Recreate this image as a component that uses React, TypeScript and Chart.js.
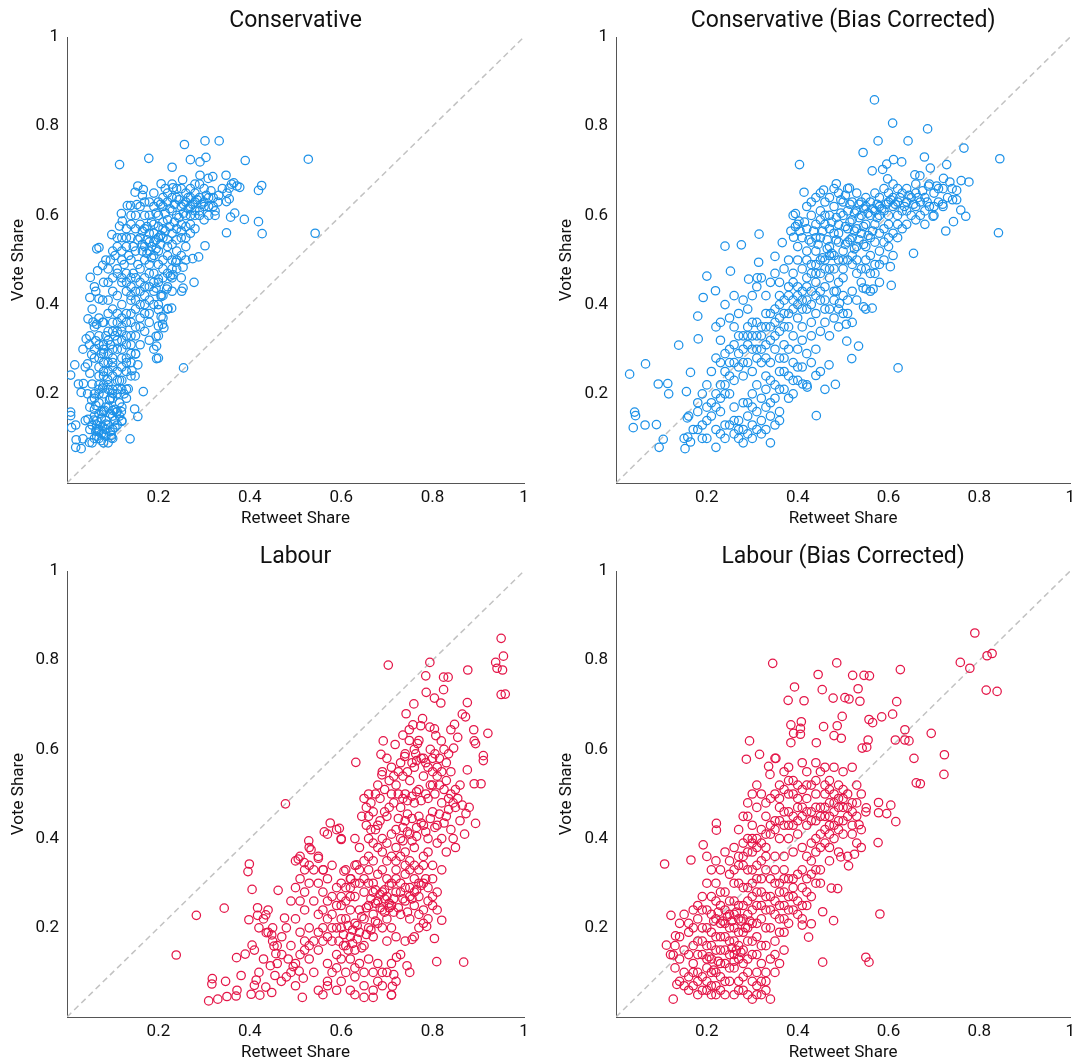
import React, { useEffect, useRef } from 'react';
import { Chart, registerables } from 'chart.js';

Chart.register(...registerables);

// ---------- DATA ----------
const panelTitles = ['Conservative', 'Conservative (Bias Corrected)', 'Labour', 'Labour (Bias Corrected)'];
const xAxisTitle = 'Retweet Share';
const yAxisTitle = 'Vote Share';
const axisTicks = [0, 0.2, 0.4, 0.6, 0.8, 1];
const diagonal: [number, number][] = [[0, 0], [1, 1]];

const conservativeRaw: [number, number][] = [
  [0.528,0.726],[0.543,0.56],[0.255,0.258],[0.426,0.667],[0.419,0.656],[0.419,0.586],[0.427,0.559],[0.39,0.723],[0.388,0.591],[0.333,0.767],[0.302,0.767],[0.257,0.759],[0.304,0.73],[0.27,0.725],[0.291,0.72],[0.179,0.728],[0.115,0.714],[0.23,0.708],[0.348,0.69],[0.319,0.687],[0.309,0.683],[0.291,0.69],[0.365,0.673],[0.372,0.666],[0.378,0.663],[0.355,0.661],[0.349,0.631],[0.355,0.637],[0.367,0.605],[0.358,0.596],[0.349,0.561],[0.324,0.61],[0.324,0.6],[0.332,0.645],[0.302,0.532],[0.288,0.507],[0.278,0.45],[0.275,0.503],[0.254,0.437],[0.251,0.43],[0.253,0.68],[0.232,0.662],[0.206,0.671],[0.155,0.666],[0.149,0.652],[0.167,0.658],[0.165,0.645],[0.132,0.622],[0.139,0.622],[0.153,0.624],[0.119,0.604],[0.121,0.587],[0.115,0.576],[0.098,0.557],[0.07,0.528],[0.065,0.525],[0.078,0.488],[0.09,0.48],[0.095,0.5],[0.051,0.461],[0.067,0.476],[0.05,0.416],[0.063,0.43],[0.07,0.413],[0.078,0.41],[0.046,0.368],[0.057,0.361],[0.065,0.356],[0.078,0.36],[0.042,0.323],[0.049,0.31],[0.063,0.319],[0.054,0.288],[0.017,0.265],[0.008,0.242],[0.045,0.267],[0.05,0.246],[0.025,0.222],[0.036,0.223],[0.031,0.203],[0.055,0.222],[0.008,0.159],[0.008,0.151],[0.01,0.124],[0.019,0.13],[0.02,0.097],[0.019,0.08],[0.031,0.077],[0.035,0.099],[0.049,0.091],[0.046,0.143],[0.054,0.186],[0.063,0.116],[0.07,0.116],[0.078,0.126],[0.085,0.132],[0.059,0.141],[0.07,0.155],[0.082,0.163],[0.093,0.186],[0.1,0.201],[0.078,0.213],[0.089,0.232],[0.063,0.174],[0.1,0.163],[0.108,0.159],[0.119,0.16],[0.097,0.107],[0.097,0.101],[0.138,0.099],[0.148,0.166],[0.155,0.149],[0.12,0.138],[0.167,0.205],[0.134,0.211],[0.149,0.24],[0.142,0.252],[0.155,0.265],[0.15,0.289],
  [0.196,0.307],[0.195,0.329],[0.196,0.279],[0.212,0.348],[0.209,0.356],[0.2,0.352],[0.206,0.373],[0.221,0.391],[0.229,0.392],[0.2,0.389],[0.206,0.422],[0.206,0.418],[0.218,0.435],[0.2,0.457],[0.195,0.437],[0.226,0.464],[0.232,0.467],[0.238,0.495],[0.254,0.484],
  [0.13,0.47],[0.14,0.5],[0.15,0.52],[0.16,0.55],[0.17,0.53],[0.18,0.56],[0.18,0.52],[0.19,0.54],[0.19,0.58],[0.2,0.55],[0.2,0.6],[0.21,0.57],[0.21,0.62],[0.22,0.59],[0.22,0.63],[0.23,0.61],[0.23,0.56],[0.24,0.6],[0.24,0.64],[0.25,0.58],[0.25,0.62],[0.26,0.6],[0.26,0.65],[0.27,0.62],[0.27,0.58],[0.28,0.63],[0.28,0.6],[0.29,0.64],[0.29,0.61],[0.3,0.63],[0.3,0.66],[0.31,0.6],[0.31,0.64],[0.32,0.62],[0.17,0.5],[0.16,0.48],[0.18,0.49],[0.19,0.51],[0.2,0.52],[0.21,0.5],[0.22,0.53],[0.23,0.5],[0.24,0.52],[0.25,0.55],[0.26,0.53],[0.27,0.56],[0.28,0.57],[0.15,0.46],[0.14,0.44],[0.16,0.43],[0.17,0.46],[0.18,0.44],[0.19,0.47],[0.2,0.45],[0.21,0.48],[0.22,0.47],[0.23,0.46],[0.2,0.63],[0.19,0.62],[0.21,0.64],[0.22,0.65],[0.23,0.64],[0.18,0.6],[0.17,0.6],[0.16,0.58],[0.15,0.57],[0.14,0.55],[0.13,0.53],[0.12,0.5],[0.12,0.52],[0.11,0.48],[0.13,0.57],[0.14,0.6],[0.17,0.63],[0.25,0.66],[0.27,0.66],[0.28,0.65],[0.29,0.67],[0.3,0.62],[0.26,0.63],[0.24,0.57],[0.21,0.55],[0.19,0.56],[0.18,0.54],[0.17,0.57],[0.22,0.51],[0.2,0.49],[0.185,0.53],[0.195,0.545],[0.205,0.535],[0.175,0.545],[0.165,0.52],[0.155,0.49],[0.145,0.47],[0.26,0.5],[0.24,0.48],[0.25,0.46],[0.23,0.43],[0.21,0.42],[0.2,0.4],[0.22,0.39],[0.21,0.37],[0.2,0.33],[0.19,0.3],[0.2,0.28],
  [0.06,0.3],[0.07,0.28],[0.07,0.33],[0.08,0.31],[0.08,0.27],[0.09,0.29],[0.09,0.34],[0.1,0.3],[0.1,0.36],[0.1,0.27],[0.11,0.32],[0.11,0.38],[0.11,0.25],[0.12,0.35],[0.12,0.3],[0.12,0.4],[0.13,0.33],[0.13,0.38],[0.13,0.28],[0.14,0.36],[0.14,0.41],[0.14,0.31],[0.15,0.39],[0.15,0.35],[0.15,0.43],[0.16,0.4],[0.16,0.37],[0.17,0.42],[0.17,0.38],[0.18,0.41],[0.18,0.36],[0.09,0.38],[0.08,0.36],[0.07,0.37],[0.06,0.35],[0.09,0.41],[0.1,0.43],[0.11,0.42],[0.12,0.45],[0.1,0.46],[0.11,0.47],[0.09,0.45],[0.1,0.39],[0.12,0.37],[0.13,0.43],[0.14,0.46],[0.1,0.24],[0.09,0.22],[0.11,0.21],[0.12,0.23],[0.13,0.25],[0.14,0.27],[0.15,0.29],[0.13,0.21],[0.14,0.24],[0.12,0.26],[0.08,0.25],[0.07,0.24],[0.08,0.22],[0.12,0.32],[0.13,0.31],[0.14,0.33],[0.11,0.34],[0.095,0.31],[0.105,0.33],[0.085,0.33],[0.075,0.29],
  [0.05,0.12],[0.06,0.1],[0.06,0.15],[0.07,0.12],[0.07,0.18],[0.08,0.11],[0.08,0.16],[0.08,0.2],[0.09,0.13],[0.09,0.17],[0.1,0.12],[0.1,0.15],[0.1,0.19],[0.11,0.16],[0.11,0.13],[0.12,0.17],[0.12,0.14],[0.06,0.2],[0.07,0.22],[0.05,0.17],[0.04,0.14],[0.055,0.09],[0.065,0.105],[0.075,0.095],[0.085,0.105],[0.09,0.09],[0.1,0.1],[0.065,0.13],[0.075,0.145],[0.085,0.14],[0.095,0.155],[0.105,0.165],[0.115,0.18],[0.06,0.165],[0.07,0.2],[0.09,0.21],[0.1,0.21],[0.11,0.2],[0.115,0.23],
  [0.165,0.535],[0.175,0.515],[0.185,0.505],[0.195,0.525],[0.205,0.555],[0.215,0.565],[0.225,0.575],[0.235,0.585],[0.245,0.595],[0.255,0.605],[0.265,0.615],[0.275,0.625],[0.285,0.635],[0.295,0.625],[0.305,0.645],[0.315,0.655],[0.215,0.605],[0.225,0.615],[0.235,0.625],[0.245,0.635],[0.255,0.625],[0.265,0.64],[0.205,0.625],[0.195,0.605],[0.185,0.585],[0.175,0.575],[0.165,0.565],[0.155,0.545],[0.145,0.53],[0.135,0.51],[0.125,0.49],[0.2,0.575],[0.21,0.585],[0.22,0.545],[0.23,0.535],[0.24,0.545],[0.25,0.565],[0.26,0.575],[0.27,0.6],[0.28,0.61],[0.29,0.6],[0.3,0.59],[0.31,0.62],[0.32,0.64],[0.33,0.63],[0.34,0.66],[0.35,0.65],[0.36,0.67],[0.27,0.64],[0.28,0.67],[0.24,0.66],[0.23,0.67],[0.215,0.66],[0.19,0.65],[0.18,0.63],[0.16,0.62],[0.15,0.6],[0.14,0.58],[0.13,0.55],[0.12,0.55],[0.11,0.53],[0.105,0.51],[0.12,0.46],[0.13,0.45],[0.14,0.42],[0.15,0.41],[0.16,0.45],[0.17,0.44],[0.18,0.47],[0.19,0.45],[0.21,0.46],[0.22,0.44],[0.24,0.5],[0.25,0.51],[0.26,0.55],[0.23,0.48],[0.17,0.4],[0.16,0.35],[0.15,0.33],[0.14,0.38],[0.13,0.36],[0.12,0.34],[0.11,0.36],[0.1,0.34],[0.09,0.32],[0.08,0.3],[0.07,0.31],[0.06,0.28],[0.07,0.26],[0.08,0.29],[0.09,0.27],[0.1,0.28],[0.11,0.3],[0.12,0.28],[0.13,0.27],[0.14,0.29],[0.16,0.31],[0.17,0.34],[0.18,0.32],[0.18,0.38],[0.19,0.4],[0.19,0.43],[0.085,0.17],[0.095,0.19],[0.105,0.14],[0.115,0.15],[0.075,0.16],[0.065,0.14],[0.055,0.13],[0.065,0.12],[0.075,0.11],[0.085,0.12],[0.095,0.115],[0.105,0.125],[0.07,0.1],[0.08,0.09],[0.06,0.19],[0.07,0.21],[0.08,0.24],[0.09,0.25],[0.1,0.26],[0.11,0.23],[0.12,0.21],[0.13,0.19],[0.125,0.2],[0.045,0.2],[0.04,0.26],[0.035,0.3],[0.05,0.33],[0.055,0.39],[0.06,0.44],[0.08,0.45],[0.085,0.5],[0.1,0.52],[0.11,0.55],
];

const conservativeCorrected: [number, number][] = [
  [0.569,0.859],[0.609,0.807],[0.686,0.794],[0.577,0.767],[0.643,0.767],[0.544,0.741],[0.766,0.751],[0.404,0.714],[0.845,0.727],[0.842,0.561],[0.611,0.725],[0.629,0.72],[0.679,0.731],[0.728,0.714],[0.564,0.7],[0.587,0.703],[0.596,0.715],[0.598,0.682],[0.692,0.706],[0.658,0.691],[0.669,0.689],[0.721,0.683],[0.735,0.675],[0.76,0.678],[0.777,0.675],[0.706,0.666],[0.688,0.666],[0.75,0.656],[0.741,0.635],[0.75,0.635],[0.719,0.625],[0.759,0.612],[0.77,0.598],[0.743,0.586],[0.726,0.565],[0.698,0.598],[0.655,0.515],[0.621,0.258],[0.606,0.443],[0.604,0.485],[0.03,0.244],[0.065,0.267],[0.041,0.159],[0.043,0.151],[0.038,0.124],[0.064,0.13],[0.089,0.131],[0.104,0.098],[0.095,0.08],[0.093,0.222],[0.114,0.223],[0.116,0.2],[0.138,0.309],[0.152,0.077],[0.158,0.103],[0.164,0.092],[0.157,0.146],[0.155,0.205],[0.164,0.248],[0.181,0.323],[0.18,0.374],[0.192,0.416],[0.2,0.464],[0.219,0.431],[0.24,0.531],[0.276,0.534],[0.315,0.558],[0.252,0.475],[0.292,0.457],[0.311,0.46],[0.314,0.495],[0.35,0.508],[0.366,0.539],[0.391,0.551],[0.395,0.604],[0.403,0.587],[0.414,0.652],[0.457,0.657],[0.485,0.671],[0.514,0.661],
  [0.545,0.395],[0.564,0.392],[0.544,0.437],[0.551,0.435],[0.566,0.435],[0.534,0.307],[0.519,0.279],[0.508,0.318],[0.507,0.356],[0.492,0.403],[0.485,0.43],[0.483,0.221],[0.469,0.265],[0.441,0.151],[0.44,0.241],[0.421,0.215],[0.411,0.222],
  [0.45,0.55],[0.46,0.58],[0.47,0.6],[0.47,0.53],[0.48,0.56],[0.48,0.62],[0.49,0.58],[0.49,0.54],[0.5,0.6],[0.5,0.63],[0.5,0.52],[0.51,0.57],[0.51,0.61],[0.52,0.55],[0.52,0.59],[0.52,0.63],[0.53,0.57],[0.53,0.61],[0.53,0.53],[0.54,0.6],[0.54,0.63],[0.54,0.56],[0.55,0.58],[0.55,0.62],[0.55,0.64],[0.56,0.6],[0.56,0.55],[0.56,0.63],[0.57,0.61],[0.57,0.58],[0.58,0.62],[0.58,0.6],[0.58,0.64],[0.59,0.61],[0.59,0.57],[0.6,0.63],[0.6,0.6],[0.61,0.62],[0.61,0.64],[0.62,0.6],[0.62,0.63],[0.63,0.65],[0.63,0.61],[0.64,0.63],[0.64,0.66],[0.65,0.64],[0.65,0.6],[0.66,0.62],[0.66,0.65],[0.67,0.63],[0.67,0.6],[0.68,0.64],[0.68,0.61],[0.69,0.62],[0.7,0.65],[0.7,0.6],[0.71,0.63],[0.72,0.66],[0.46,0.5],[0.47,0.48],[0.48,0.51],[0.49,0.5],[0.5,0.48],[0.51,0.5],[0.52,0.49],[0.53,0.5],[0.54,0.48],[0.55,0.5],[0.56,0.47],[0.57,0.49],[0.58,0.52],[0.59,0.5],[0.6,0.53],[0.61,0.51],[0.62,0.55],[0.63,0.57],[0.64,0.58],[0.44,0.52],[0.43,0.54],[0.42,0.57],[0.43,0.6],[0.44,0.58],[0.45,0.61],[0.46,0.63],[0.47,0.64],[0.48,0.66],[0.49,0.65],[0.51,0.66],[0.53,0.65],[0.57,0.65],[0.59,0.66],[0.6,0.58],[0.58,0.56],[0.57,0.54],[0.55,0.53],[0.51,0.54],[0.49,0.56],[0.47,0.57],[0.45,0.59],[0.44,0.55],[0.42,0.52],[0.41,0.55],[0.4,0.58],[0.39,0.6],[0.4,0.53],
  [0.3,0.33],[0.31,0.3],[0.32,0.35],[0.33,0.28],[0.33,0.38],[0.34,0.32],[0.35,0.36],[0.35,0.3],[0.36,0.4],[0.36,0.34],[0.37,0.38],[0.37,0.31],[0.38,0.42],[0.38,0.35],[0.39,0.39],[0.39,0.33],[0.4,0.44],[0.4,0.37],[0.41,0.41],[0.41,0.35],[0.42,0.46],[0.42,0.39],[0.43,0.43],[0.43,0.36],[0.44,0.45],[0.44,0.38],[0.45,0.41],[0.45,0.47],[0.46,0.44],[0.46,0.39],[0.47,0.46],[0.48,0.43],[0.49,0.45],[0.5,0.42],[0.5,0.46],[0.51,0.38],[0.52,0.43],[0.52,0.36],[0.53,0.41],[0.54,0.45],[0.55,0.39],[0.56,0.43],[0.57,0.47],[0.58,0.45],[0.28,0.3],[0.29,0.27],[0.3,0.25],[0.31,0.36],[0.32,0.27],[0.33,0.24],[0.34,0.27],[0.35,0.22],[0.36,0.25],[0.37,0.28],[0.38,0.3],[0.39,0.27],[0.4,0.3],[0.41,0.32],[0.42,0.29],[0.43,0.33],[0.44,0.3],[0.45,0.34],[0.46,0.36],[0.47,0.33],[0.48,0.37],[0.49,0.35],[0.26,0.35],[0.27,0.38],[0.28,0.41],[0.29,0.39],[0.3,0.42],[0.31,0.44],[0.32,0.46],[0.33,0.42],[0.34,0.45],[0.35,0.47],[0.36,0.45],[0.37,0.48],[0.38,0.5],[0.39,0.47],[0.4,0.5],[0.41,0.48],[0.42,0.5],[0.43,0.49],[0.44,0.47],[0.22,0.28],[0.23,0.32],[0.24,0.25],[0.25,0.3],[0.26,0.27],[0.27,0.33],[0.28,0.24],[0.29,0.35],[0.25,0.37],[0.23,0.36],[0.22,0.35],[0.24,0.4],[0.26,0.42],
  [0.17,0.12],[0.18,0.16],[0.19,0.1],[0.2,0.14],[0.21,0.18],[0.22,0.12],[0.23,0.16],[0.24,0.1],[0.25,0.13],[0.25,0.2],[0.26,0.17],[0.26,0.11],[0.27,0.14],[0.27,0.1],[0.28,0.12],[0.28,0.18],[0.29,0.11],[0.29,0.15],[0.3,0.13],[0.3,0.2],[0.31,0.16],[0.31,0.22],[0.32,0.19],[0.32,0.14],[0.33,0.17],[0.34,0.15],[0.35,0.19],[0.35,0.13],[0.36,0.16],[0.36,0.14],[0.37,0.21],[0.38,0.24],[0.39,0.2],[0.4,0.23],[0.41,0.26],[0.42,0.22],[0.43,0.27],[0.45,0.25],[0.46,0.21],[0.2,0.22],[0.21,0.25],[0.22,0.2],[0.23,0.22],[0.24,0.2],[0.19,0.2],[0.18,0.18],[0.16,0.15],[0.15,0.1],[0.2,0.1],[0.22,0.08],[0.27,0.12],[0.28,0.09],[0.3,0.1],[0.32,0.11],[0.34,0.09],[0.33,0.12],
  [0.455,0.565],[0.465,0.545],[0.475,0.585],[0.485,0.595],[0.495,0.605],[0.505,0.575],[0.515,0.585],[0.525,0.565],[0.535,0.595],[0.545,0.575],[0.555,0.605],[0.565,0.615],[0.575,0.625],[0.585,0.615],[0.595,0.625],[0.605,0.635],[0.615,0.625],[0.625,0.64],[0.635,0.62],[0.645,0.645],[0.655,0.625],[0.665,0.64],[0.675,0.655],[0.685,0.63],[0.505,0.535],[0.515,0.545],[0.525,0.525],[0.535,0.545],[0.545,0.535],[0.555,0.555],[0.565,0.565],[0.575,0.595],[0.545,0.615],[0.535,0.625],[0.525,0.605],[0.515,0.625],[0.505,0.645],[0.495,0.635],[0.485,0.545],[0.475,0.515],[0.465,0.525],[0.455,0.505],[0.445,0.535],[0.435,0.565],[0.425,0.545],[0.415,0.585],[0.405,0.565],[0.395,0.575],[0.385,0.565],[0.42,0.62],[0.43,0.63],[0.44,0.64],[0.45,0.65],[0.46,0.6],[0.6,0.65],[0.61,0.67],[0.62,0.66],[0.66,0.67],[0.69,0.67],[0.71,0.66],[0.73,0.64],[0.74,0.66],[0.72,0.62],[0.7,0.62],[0.68,0.58],[0.66,0.59],[0.64,0.61],[0.62,0.58],[0.61,0.56],[0.6,0.55],[0.59,0.54],[0.58,0.49],[0.56,0.51],[0.55,0.48],[0.53,0.47],[0.52,0.51],[0.5,0.5],[0.48,0.48],[0.47,0.51],[0.46,0.48],[0.45,0.5],[0.44,0.49],[0.43,0.47],[0.42,0.44],[0.41,0.43],[0.4,0.42],[0.39,0.41],[0.38,0.38],[0.37,0.35],[0.36,0.37],[0.35,0.33],[0.34,0.35],[0.33,0.31],[0.32,0.3],[0.31,0.28],[0.3,0.3],[0.29,0.31],[0.28,0.27],[0.27,0.26],[0.26,0.23],[0.25,0.24],[0.24,0.22],[0.23,0.19],[0.22,0.17],[0.21,0.15],[0.2,0.17],[0.19,0.13],[0.18,0.12],[0.37,0.41],[0.38,0.44],[0.39,0.45],[0.4,0.4],[0.41,0.39],[0.42,0.41],[0.43,0.4],[0.44,0.42],[0.45,0.43],[0.46,0.41],[0.47,0.39],[0.48,0.41],[0.49,0.39],[0.5,0.38],[0.51,0.41],[0.36,0.42],[0.35,0.39],[0.34,0.38],[0.33,0.35],[0.32,0.33],[0.31,0.33],[0.3,0.36],[0.29,0.33],[0.28,0.33],[0.27,0.29],[0.26,0.31],[0.25,0.27],[0.24,0.29],[0.23,0.27],[0.3,0.17],[0.31,0.12],[0.26,0.14],[0.24,0.13],[0.23,0.11],[0.29,0.18],[0.34,0.18],[0.36,0.21],[0.38,0.19],[0.39,0.23],[0.37,0.25],[0.33,0.21],[0.34,0.23],[0.4,0.26],[0.36,0.28],
];

const labourRaw: [number, number][] = [
  [0.239,0.139],[0.283,0.228],[0.344,0.244],[0.478,0.478],[0.703,0.789],[0.794,0.795],[0.95,0.849],[0.955,0.809],[0.938,0.795],[0.941,0.782],[0.953,0.778],[0.877,0.778],[0.95,0.723],[0.959,0.724],[0.785,0.765],[0.824,0.762],[0.834,0.762],[0.786,0.728],[0.824,0.734],[0.804,0.715],[0.818,0.704],[0.876,0.705],[0.759,0.702],[0.865,0.679],[0.872,0.673],[0.742,0.68],[0.921,0.636],[0.89,0.644],[0.891,0.619],[0.894,0.613],[0.911,0.586],[0.911,0.575],[0.876,0.554],[0.873,0.456],[0.894,0.434],[0.891,0.523],[0.906,0.523],[0.632,0.571],[0.692,0.619],[0.687,0.589],[0.689,0.543],[0.31,0.036],[0.33,0.04],[0.35,0.046],[0.37,0.047],[0.318,0.086],[0.317,0.074],[0.347,0.08],[0.372,0.06],[0.381,0.093],[0.371,0.133],[0.39,0.141],[0.405,0.161],[0.403,0.051],[0.41,0.071],[0.414,0.083],[0.422,0.049],[0.448,0.055],[0.435,0.067],[0.398,0.218],[0.417,0.228],[0.435,0.229],[0.417,0.245],[0.405,0.286],[0.396,0.326],[0.399,0.343],[0.462,0.284],[0.476,0.222],[0.445,0.115],[0.455,0.093],[0.469,0.08],[0.457,0.142],[0.453,0.159],[0.436,0.189],[0.448,0.184],[0.484,0.13],[0.495,0.113],[0.515,0.044],[0.508,0.103],[0.517,0.087],
  [0.718,0.611],[0.739,0.584],[0.735,0.632],[0.749,0.644],[0.757,0.655],[0.774,0.653],[0.778,0.669],[0.794,0.65],[0.804,0.646],[0.807,0.631],[0.819,0.619],[0.84,0.644],[0.848,0.656],[0.855,0.627],[0.846,0.603],[0.767,0.613],[0.763,0.59],[0.749,0.62],
  [0.809,0.124],[0.868,0.123],[0.804,0.176],[0.82,0.217],[0.787,0.203],[0.755,0.174],[0.744,0.115],[0.721,0.134],[0.715,0.095],[0.712,0.069],[0.71,0.049],[0.65,0.044],[0.67,0.044],
  [0.576,0.435],[0.563,0.415],[0.596,0.423],[0.6,0.398],[0.529,0.395],[0.534,0.375],[0.506,0.354],[0.519,0.346],[0.55,0.356],[0.561,0.33],[0.606,0.327],[0.621,0.31],[0.634,0.341],
  [0.7,0.45],[0.71,0.5],[0.72,0.42],[0.72,0.52],[0.73,0.47],[0.73,0.4],[0.74,0.5],[0.74,0.44],[0.75,0.53],[0.75,0.41],[0.76,0.48],[0.76,0.56],[0.77,0.45],[0.77,0.51],[0.78,0.43],[0.78,0.54],[0.78,0.58],[0.79,0.49],[0.79,0.4],[0.8,0.46],[0.8,0.52],[0.81,0.43],[0.81,0.56],[0.82,0.48],[0.82,0.4],[0.83,0.53],[0.83,0.45],[0.84,0.5],[0.84,0.42],[0.85,0.47],[0.85,0.38],[0.86,0.44],[0.86,0.52],[0.87,0.41],[0.88,0.47],[0.69,0.4],[0.68,0.43],[0.67,0.39],[0.66,0.45],[0.65,0.49],[0.66,0.5],[0.67,0.46],[0.68,0.52],[0.69,0.55],[0.7,0.58],[0.71,0.56],[0.73,0.57],[0.74,0.59],[0.76,0.6],[0.77,0.62],[0.8,0.58],[0.82,0.55],[0.83,0.57],[0.84,0.55],[0.85,0.51],[0.79,0.37],[0.8,0.34],[0.78,0.36],[0.76,0.38],[0.75,0.35],[0.74,0.37],[0.72,0.38],[0.71,0.41],[0.7,0.39],[0.69,0.37],[0.81,0.39],[0.83,0.37],[0.845,0.4],[0.725,0.445],[0.735,0.425],[0.745,0.455],[0.755,0.445],[0.765,0.425],
  [0.55,0.15],[0.56,0.2],[0.57,0.12],[0.58,0.17],[0.58,0.23],[0.59,0.14],[0.6,0.2],[0.6,0.25],[0.61,0.16],[0.61,0.22],[0.62,0.13],[0.62,0.18],[0.62,0.27],[0.63,0.21],[0.63,0.15],[0.64,0.24],[0.64,0.19],[0.65,0.22],[0.65,0.28],[0.65,0.16],[0.66,0.2],[0.66,0.25],[0.67,0.23],[0.67,0.3],[0.67,0.18],[0.68,0.26],[0.68,0.21],[0.68,0.32],[0.69,0.24],[0.69,0.28],[0.7,0.22],[0.7,0.27],[0.7,0.31],[0.71,0.25],[0.71,0.2],[0.72,0.28],[0.72,0.33],[0.73,0.23],[0.73,0.3],[0.74,0.26],[0.74,0.32],[0.75,0.22],[0.75,0.29],[0.76,0.25],[0.76,0.31],[0.77,0.2],[0.77,0.27],[0.78,0.24],[0.78,0.3],[0.79,0.22],[0.8,0.27],[0.8,0.31],[0.81,0.28],[0.82,0.33],[0.6,0.3],[0.61,0.33],[0.62,0.31],[0.63,0.34],[0.64,0.3],[0.66,0.33],[0.66,0.36],[0.67,0.35],[0.65,0.35],[0.64,0.38],[0.66,0.4],[0.68,0.38],[0.695,0.265],[0.685,0.275],[0.705,0.245],[0.675,0.255],[0.715,0.235],[0.69,0.2],[0.7,0.17],[0.72,0.18],[0.74,0.17],[0.76,0.18],[0.64,0.12],[0.66,0.13],[0.68,0.12],[0.69,0.1],[0.71,0.12],[0.73,0.14],[0.75,0.1],[0.63,0.09],[0.65,0.07],[0.67,0.06],[0.69,0.07],[0.71,0.05],[0.72,0.08],[0.62,0.06],[0.6,0.08],[0.61,0.1],[0.59,0.11],[0.57,0.08],[0.56,0.05],[0.55,0.06],[0.54,0.1],[0.53,0.13],[0.52,0.17],[0.51,0.19],[0.5,0.22],[0.49,0.26],[0.5,0.29],[0.51,0.31],[0.52,0.33],[0.53,0.3],[0.54,0.26],[0.55,0.23],[0.56,0.28],[0.57,0.31],[0.58,0.34],[0.59,0.29],[0.57,0.26],[0.53,0.2],[0.52,0.24],[0.5,0.35],[0.51,0.36],[0.53,0.38],[0.55,0.36],[0.56,0.33],[0.57,0.41],[0.59,0.42],[0.6,0.4],[0.63,0.4],[0.48,0.2],[0.49,0.16],[0.47,0.18],[0.46,0.12],[0.45,0.17],[0.44,0.19],[0.43,0.13],[0.42,0.1],[0.41,0.15],[0.48,0.09],[0.5,0.07],
  [0.685,0.245],[0.695,0.235],[0.705,0.255],[0.715,0.265],[0.695,0.285],[0.705,0.295],[0.675,0.285],[0.665,0.265],[0.655,0.245],[0.645,0.225],[0.635,0.205],[0.625,0.195],[0.615,0.205],[0.605,0.185],[0.595,0.17],[0.605,0.16],[0.615,0.15],[0.625,0.165],[0.635,0.175],[0.645,0.155],[0.655,0.185],[0.665,0.195],[0.675,0.215],[0.725,0.245],[0.735,0.265],[0.745,0.235],[0.755,0.265],[0.765,0.285],[0.775,0.295],[0.785,0.31],[0.735,0.395],[0.745,0.415],[0.755,0.395],[0.765,0.405],[0.775,0.435],[0.785,0.415],[0.795,0.445],[0.805,0.425],[0.815,0.455],[0.825,0.435],[0.835,0.465],[0.845,0.48],[0.855,0.49],[0.865,0.475],[0.755,0.495],[0.765,0.505],[0.775,0.485],[0.785,0.5],[0.795,0.52],[0.805,0.5],[0.815,0.52],[0.825,0.51],[0.835,0.49],[0.745,0.485],[0.735,0.49],[0.725,0.5],[0.715,0.48],[0.705,0.47],[0.695,0.46],[0.685,0.44],[0.675,0.42],[0.665,0.42],[0.655,0.43],[0.645,0.45],[0.655,0.47],[0.665,0.48],[0.675,0.5],[0.685,0.49],[0.695,0.51],[0.705,0.53],[0.715,0.54],[0.725,0.55],[0.735,0.54],[0.745,0.55],[0.755,0.57],[0.765,0.575],[0.775,0.58],[0.785,0.57],[0.795,0.6],[0.805,0.59],[0.815,0.58],[0.825,0.6],[0.835,0.59],[0.79,0.56],[0.8,0.55],[0.81,0.54],[0.7,0.35],[0.71,0.36],[0.72,0.35],[0.73,0.36],[0.74,0.34],[0.75,0.33],[0.76,0.34],[0.77,0.33],[0.78,0.34],[0.69,0.33],[0.71,0.3],[0.72,0.31],[0.73,0.28],[0.74,0.29],[0.75,0.27],[0.76,0.28],[0.77,0.3],[0.79,0.29],[0.8,0.25],[0.81,0.24],[0.79,0.26],[0.78,0.21],[0.77,0.23],[0.63,0.27],[0.62,0.24],[0.61,0.26],[0.6,0.22],[0.59,0.2],[0.58,0.2],[0.57,0.18],[0.56,0.17],[0.55,0.19],[0.54,0.17],[0.53,0.16],[0.52,0.15],[0.51,0.14],[0.5,0.12],[0.49,0.1],[0.47,0.14],[0.46,0.16],[0.45,0.2],[0.44,0.24],[0.43,0.22],[0.42,0.2],[0.55,0.3],[0.54,0.33],[0.53,0.34],[0.52,0.28],[0.51,0.26],[0.58,0.27],[0.59,0.25],[0.6,0.27],[0.61,0.29],[0.62,0.29],[0.63,0.3],[0.64,0.33],[0.65,0.31],[0.66,0.3],[0.67,0.28],[0.57,0.22],[0.56,0.24],[0.63,0.11],[0.65,0.1],[0.67,0.1],[0.68,0.08],[0.7,0.1],[0.6,0.13],[0.58,0.1],[0.57,0.07],[0.59,0.06],[0.63,0.05],
];

const labourCorrected: [number, number][] = [
  [0.79,0.861],[0.817,0.81],[0.828,0.815],[0.758,0.795],[0.779,0.782],[0.815,0.733],[0.839,0.73],[0.694,0.636],[0.723,0.588],[0.722,0.544],[0.661,0.525],[0.67,0.523],[0.656,0.58],[0.636,0.644],[0.615,0.621],[0.636,0.621],[0.645,0.619],[0.626,0.779],[0.618,0.707],[0.609,0.679],[0.585,0.673],[0.345,0.793],[0.486,0.794],[0.445,0.768],[0.521,0.766],[0.546,0.766],[0.558,0.765],[0.393,0.74],[0.454,0.734],[0.533,0.736],[0.379,0.71],[0.414,0.709],[0.478,0.715],[0.504,0.716],[0.513,0.713],[0.537,0.708],[0.498,0.674],[0.557,0.667],[0.565,0.66],[0.385,0.655],[0.408,0.662],[0.457,0.651],[0.487,0.653],[0.406,0.647],[0.391,0.636],[0.406,0.634],[0.385,0.615],[0.441,0.615],[0.48,0.631],[0.496,0.625],[0.555,0.621],[0.542,0.603],[0.552,0.605],[0.294,0.619],[0.316,0.589],[0.287,0.578],[0.336,0.562],[0.352,0.58],[0.339,0.544],[0.107,0.343],[0.121,0.228],[0.111,0.161],[0.126,0.139],[0.131,0.182],[0.134,0.073],[0.126,0.04],[0.165,0.352],[0.192,0.386],[0.221,0.434],[0.221,0.419],[0.581,0.231],[0.479,0.216],[0.455,0.236],[0.455,0.123],[0.55,0.134],[0.557,0.123],[0.474,0.289],[0.488,0.288],[0.424,0.179],[0.43,0.209],[0.41,0.206],[0.577,0.391],[0.616,0.438],[0.578,0.458],[0.596,0.456],[0.605,0.475],[0.578,0.481],[0.551,0.469],[0.535,0.431],[0.525,0.365],[0.512,0.339],[0.495,0.359],
  [0.15,0.1],[0.16,0.14],[0.16,0.19],[0.17,0.07],[0.17,0.12],[0.18,0.17],[0.18,0.22],[0.19,0.09],[0.19,0.14],[0.19,0.2],[0.2,0.11],[0.2,0.16],[0.2,0.24],[0.21,0.07],[0.21,0.13],[0.21,0.19],[0.21,0.27],[0.22,0.1],[0.22,0.15],[0.22,0.22],[0.22,0.3],[0.23,0.12],[0.23,0.18],[0.23,0.25],[0.24,0.08],[0.24,0.15],[0.24,0.21],[0.24,0.28],[0.25,0.11],[0.25,0.17],[0.25,0.23],[0.25,0.32],[0.26,0.14],[0.26,0.2],[0.26,0.26],[0.27,0.08],[0.27,0.16],[0.27,0.22],[0.27,0.3],[0.28,0.12],[0.28,0.19],[0.28,0.25],[0.28,0.34],[0.29,0.1],[0.29,0.17],[0.29,0.23],[0.29,0.29],[0.3,0.14],[0.3,0.21],[0.3,0.27],[0.3,0.33],[0.31,0.07],[0.31,0.18],[0.31,0.25],[0.31,0.31],[0.32,0.12],[0.32,0.22],[0.32,0.28],[0.33,0.16],[0.33,0.24],[0.33,0.33],[0.34,0.2],[0.34,0.27],[0.35,0.14],[0.35,0.23],[0.35,0.3],[0.36,0.25],[0.36,0.19],[0.37,0.28],[0.37,0.22],[0.38,0.24],[0.38,0.31],[0.39,0.27],[0.4,0.23],[0.41,0.25],[0.42,0.28],[0.43,0.32],[0.44,0.3],[0.2,0.06],[0.22,0.05],[0.23,0.06],[0.26,0.05],[0.28,0.06],[0.3,0.04],[0.32,0.05],[0.33,0.06],[0.34,0.04],[0.18,0.05],[0.16,0.06],[0.14,0.08],[0.13,0.11],[0.15,0.15],[0.14,0.18],[0.17,0.2],[0.18,0.25],[0.19,0.27],[0.2,0.3],[0.215,0.215],[0.225,0.235],[0.235,0.215],[0.245,0.225],[0.255,0.215],[0.265,0.235],[0.275,0.215],[0.285,0.2],[0.295,0.215],[0.205,0.135],[0.215,0.105],[0.225,0.125],[0.265,0.15],[0.275,0.145],[0.255,0.155],[0.26,0.125],
  [0.26,0.38],[0.27,0.42],[0.28,0.36],[0.28,0.45],[0.29,0.4],[0.29,0.48],[0.3,0.37],[0.3,0.43],[0.31,0.4],[0.31,0.47],[0.32,0.35],[0.32,0.42],[0.33,0.38],[0.33,0.45],[0.34,0.41],[0.34,0.49],[0.35,0.36],[0.35,0.44],[0.36,0.4],[0.36,0.47],[0.36,0.52],[0.37,0.43],[0.37,0.36],[0.38,0.46],[0.38,0.4],[0.38,0.5],[0.39,0.43],[0.39,0.37],[0.4,0.47],[0.4,0.41],[0.4,0.52],[0.41,0.45],[0.41,0.38],[0.42,0.49],[0.42,0.43],[0.43,0.46],[0.43,0.52],[0.43,0.39],[0.44,0.44],[0.44,0.5],[0.45,0.47],[0.45,0.41],[0.45,0.55],[0.46,0.45],[0.46,0.5],[0.47,0.43],[0.47,0.48],[0.47,0.53],[0.48,0.46],[0.48,0.5],[0.49,0.44],[0.49,0.49],[0.5,0.47],[0.5,0.41],[0.51,0.45],[0.51,0.5],[0.52,0.43],[0.52,0.48],[0.53,0.45],[0.53,0.52],[0.54,0.42],[0.54,0.5],[0.55,0.46],[0.42,0.36],[0.44,0.37],[0.46,0.39],[0.48,0.4],[0.47,0.35],[0.45,0.33],[0.43,0.35],[0.41,0.33],[0.39,0.31],[0.37,0.33],[0.36,0.3],[0.46,0.56],[0.44,0.57],[0.42,0.55],[0.41,0.57],[0.39,0.53],[0.37,0.55],[0.35,0.58],[0.38,0.56],[0.48,0.56],[0.5,0.55],[0.52,0.56],[0.49,0.52],[0.5,0.51],
  [0.17,0.16],[0.18,0.1],[0.18,0.14],[0.19,0.17],[0.19,0.24],[0.2,0.2],[0.2,0.13],[0.21,0.1],[0.21,0.16],[0.21,0.23],[0.22,0.18],[0.22,0.26],[0.23,0.09],[0.23,0.15],[0.23,0.21],[0.23,0.28],[0.24,0.12],[0.24,0.18],[0.24,0.24],[0.25,0.08],[0.25,0.14],[0.25,0.2],[0.25,0.26],[0.26,0.11],[0.26,0.17],[0.26,0.23],[0.26,0.3],[0.27,0.13],[0.27,0.19],[0.27,0.25],[0.27,0.34],[0.28,0.09],[0.28,0.15],[0.28,0.22],[0.28,0.29],[0.29,0.13],[0.29,0.2],[0.29,0.26],[0.29,0.33],[0.3,0.08],[0.3,0.17],[0.3,0.24],[0.3,0.3],[0.31,0.1],[0.31,0.14],[0.31,0.21],[0.31,0.28],[0.31,0.34],[0.32,0.08],[0.32,0.16],[0.32,0.25],[0.32,0.31],[0.33,0.1],[0.33,0.2],[0.33,0.27],[0.33,0.36],[0.34,0.13],[0.34,0.24],[0.34,0.31],[0.35,0.17],[0.35,0.26],[0.35,0.33],[0.36,0.22],[0.36,0.28],[0.37,0.19],[0.37,0.25],[0.37,0.31],[0.38,0.27],[0.38,0.21],[0.39,0.24],[0.39,0.29],[0.4,0.26],[0.4,0.32],[0.41,0.29],[0.41,0.22],[0.42,0.25],[0.42,0.31],[0.43,0.27],[0.44,0.33],[0.45,0.3],[0.15,0.07],[0.16,0.09],[0.17,0.1],[0.18,0.08],[0.19,0.06],[0.2,0.08],[0.21,0.05],[0.22,0.07],[0.24,0.05],[0.27,0.06],[0.29,0.05],[0.31,0.05],[0.33,0.08],[0.35,0.1],[0.36,0.12],[0.37,0.15],[0.16,0.21],[0.17,0.24],[0.15,0.23],[0.14,0.21],[0.13,0.16],[0.12,0.14],[0.14,0.13],[0.3,0.4],[0.31,0.38],[0.32,0.39],[0.33,0.41],[0.34,0.43],[0.35,0.42],[0.36,0.44],[0.37,0.46],[0.38,0.43],[0.39,0.45],[0.4,0.44],[0.41,0.47],[0.42,0.46],[0.43,0.44],[0.44,0.47],[0.45,0.45],[0.46,0.47],[0.47,0.45],[0.48,0.48],[0.49,0.47],[0.5,0.49],[0.51,0.47],[0.52,0.46],[0.53,0.48],[0.27,0.36],[0.28,0.39],[0.29,0.37],[0.3,0.39],[0.26,0.33],[0.25,0.35],[0.24,0.37],[0.23,0.33],[0.22,0.35],[0.21,0.33],[0.2,0.36],[0.44,0.4],[0.45,0.38],[0.46,0.42],[0.47,0.41],[0.48,0.43],[0.49,0.42],[0.5,0.44],[0.52,0.41],[0.53,0.39],[0.54,0.38],[0.51,0.36],[0.49,0.37],[0.47,0.38],[0.35,0.5],[0.36,0.49],[0.37,0.51],[0.38,0.53],[0.39,0.5],[0.4,0.49],[0.41,0.51],[0.42,0.52],[0.44,0.53],[0.46,0.52],[0.47,0.51],[0.32,0.5],[0.31,0.52],[0.3,0.5],[0.29,0.45],[0.33,0.48],
];

// ---------- STYLE ----------
const FONT = 'Roboto, "Noto Sans", "DejaVu Sans", sans-serif';
const BLUE = 'rgb(30,146,232)';
const RED = 'rgb(228,22,72)';
const CANVAS_W = 540;
const CANVAS_H = 530;

const fmtTick = (v: number | string) => {
  const n = Number(v);
  return n === 0 ? '' : String(Math.round(n * 10) / 10);
};

type PanelProps = {
  title: string;
  points: [number, number][];
  color: string;
  left: number;
  top: number;
  padLeft: number;
  padRight: number;
  yTitlePad: number;
  titlePadTop: number;
};

function Panel({ title, points, color, left, top, padLeft, padRight, yTitlePad, titlePadTop }: PanelProps) {
  const ref = useRef<HTMLCanvasElement>(null);
  useEffect(() => {
    if (!ref.current) return;
    const titleLH = 23 * 1.2;
    const chart = new Chart(ref.current, {
      type: 'scatter',
      data: {
        datasets: [
          {
            data: points.map(([x, y]) => ({ x, y })),
            pointRadius: 4.2,
            pointHoverRadius: 4.2,
            pointBorderWidth: 1.25,
            pointBorderColor: color,
            pointBackgroundColor: 'rgba(0,0,0,0)',
            borderColor: color,
            backgroundColor: 'rgba(0,0,0,0)',
            showLine: false,
          } as any,
          {
            data: diagonal.map(([x, y]) => ({ x, y })),
            showLine: true,
            borderColor: '#c2c2c2',
            borderWidth: 1.5,
            borderDash: [6, 4],
            pointRadius: 0,
            pointHoverRadius: 0,
            fill: false,
          } as any,
        ],
      },
      options: {
        animation: false,
        responsive: false,
        devicePixelRatio: 1,
        events: [],
        layout: { padding: { left: padLeft, right: padRight, top: 0, bottom: 0 } },
        plugins: {
          legend: { display: false },
          tooltip: { enabled: false },
          title: {
            display: true,
            text: title,
            fullSize: false,
            color: '#111',
            font: { family: FONT, size: 23, weight: 'normal', lineHeight: 1.2 },
            padding: { top: titlePadTop, bottom: 37 - titlePadTop - titleLH },
          },
        },
        scales: {
          x: {
            type: 'linear',
            min: 0,
            max: 1,
            afterBuildTicks: (s: any) => {
              s.ticks = axisTicks.map((v) => ({ value: v }));
            },
            afterFit: (s: any) => {
              s.height = CANVAS_H - 483;
            },
            ticks: {
              autoSkip: false,
              maxRotation: 0,
              padding: 5,
              color: '#111',
              font: { family: FONT, size: 17 },
              callback: fmtTick,
            },
            grid: { display: false, drawTicks: false },
            border: { display: true, color: '#555', width: 1 },
            title: {
              display: true,
              text: xAxisTitle,
              color: '#111',
              font: { family: FONT, size: 17, lineHeight: 1.2 },
              padding: { top: 0, bottom: 1 },
            },
          },
          y: {
            type: 'linear',
            min: 0,
            max: 1,
            afterBuildTicks: (s: any) => {
              s.ticks = axisTicks.map((v) => ({ value: v }));
            },
            afterFit: (s: any) => {
              s.width = 67;
            },
            ticks: {
              autoSkip: false,
              padding: 8,
              color: '#111',
              font: { family: FONT, size: 17 },
              callback: fmtTick,
            },
            grid: { display: false, drawTicks: false },
            border: { display: true, color: '#555', width: 1 },
            title: {
              display: true,
              text: yAxisTitle,
              color: '#111',
              font: { family: FONT, size: 17, lineHeight: 1.2 },
              padding: { top: yTitlePad, bottom: 0 },
            },
          },
        },
      } as any,
    });
    return () => chart.destroy();
  }, []);
  return (
    <canvas
      ref={ref}
      width={CANVAS_W}
      height={CANVAS_H}
      style={{ position: 'absolute', left, top, width: CANVAS_W, height: CANVAS_H, display: 'block' }}
    />
  );
}

export default function App() {
  return (
    <div style={{ position: 'absolute', left: 0, top: 0, width: 1080, height: 1064, background: '#fff', overflow: 'hidden' }}>
      <Panel title={panelTitles[0]} points={conservativeRaw} color={BLUE} left={0} top={0} padLeft={0} padRight={16} yTitlePad={9} titlePadTop={7} />
      <Panel title={panelTitles[1]} points={conservativeCorrected} color={BLUE} left={540} top={0} padLeft={9} padRight={7} yTitlePad={8} titlePadTop={7} />
      <Panel title={panelTitles[2]} points={labourRaw} color={RED} left={0} top={534} padLeft={0} padRight={16} yTitlePad={9} titlePadTop={9} />
      <Panel title={panelTitles[3]} points={labourCorrected} color={RED} left={540} top={534} padLeft={9} padRight={7} yTitlePad={8} titlePadTop={9} />
    </div>
  );
}
